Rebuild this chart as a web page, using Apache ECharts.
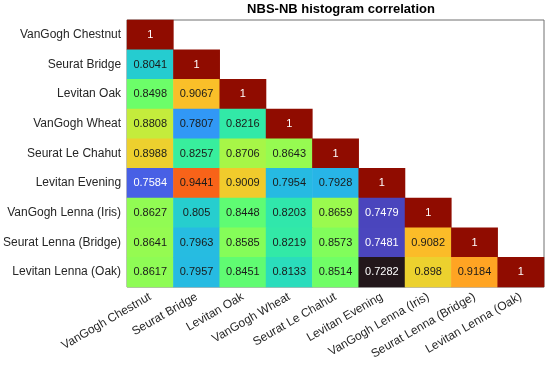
<!DOCTYPE html>
<html>
<head>
<meta charset="utf-8">
<script src="https://cdn.jsdelivr.net/npm/echarts@6/dist/echarts.min.js"></script>
<style>html,body{margin:0;padding:0;background:#fff}#c{width:550px;height:365px}</style>
</head>
<body>
<div id="c"></div>
<script>
var categories = ['VanGogh Chestnut','Seurat Bridge','Levitan Oak','VanGogh Wheat','Seurat Le Chahut','Levitan Evening','VanGogh Lenna (Iris)','Seurat Lenna (Bridge)','Levitan Lenna (Oak)'];
var row0 = [1];
var row1 = [0.8041, 1];
var row2 = [0.8498, 0.9067, 1];
var row3 = [0.8808, 0.7807, 0.8216, 1];
var row4 = [0.8988, 0.8257, 0.8706, 0.8643, 1];
var row5 = [0.7584, 0.9441, 0.9009, 0.7954, 0.7928, 1];
var row6 = [0.8627, 0.805, 0.8448, 0.8203, 0.8659, 0.7479, 1];
var row7 = [0.8641, 0.7963, 0.8585, 0.8219, 0.8573, 0.7481, 0.9082, 1];
var row8 = [0.8617, 0.7957, 0.8451, 0.8133, 0.8514, 0.7282, 0.898, 0.9184, 1];
var rows = [row0,row1,row2,row3,row4,row5,row6,row7,row8];
var vmin = 0.7282, vmax = 1;

function turbo(t){
  t = Math.max(0, Math.min(1, t));
  var r = 34.61 + t*(1172.33 - t*(10793.56 - t*(33300.12 - t*(38394.49 - t*14825.05))));
  var g = 23.31 + t*(557.33 + t*(1225.33 - t*(3574.96 - t*(1073.77 + t*707.56))));
  var b = 27.2 + t*(3211.1 - t*(15327.97 - t*(27814 - t*(22569.18 - t*6838.66))));
  function c(v){v=Math.max(0,Math.min(255,Math.round(v)));return (v<16?'0':'')+v.toString(16);}
  return '#'+c(r)+c(g)+c(b);
}
var stops = [];
for (var k=0;k<=40;k++) stops.push(turbo(k/40));

var data = [];
rows.forEach(function(r, i){
  r.forEach(function(v, j){
    var t = (v - vmin)/(vmax - vmin);
    var light = (t < 0.15 || t > 0.9);
    data.push({value:[j, i, v], label:{color: light ? '#ffffff' : '#1a1a1a'}});
  });
});

var FF = "'Liberation Sans', Arial, Helvetica, sans-serif";
var chart = echarts.init(document.getElementById('c'));
chart.setOption({
  animation: false,
  backgroundColor: '#ffffff',
  title: {
    text: 'NBS-NB histogram correlation',
    left: 336, top: -2, textAlign: 'center',
    textStyle: {fontFamily: FF, fontSize: 13, fontWeight: 'bold', color: '#000'}
  },
  grid: {left: 127, right: 6, top: 20, bottom: 78, show: true, borderColor: '#707070', borderWidth: 1, backgroundColor: 'transparent'},
  xAxis: {
    type: 'category', data: categories,
    axisLine: {show: false}, axisTick: {show: false}, splitLine: {show: false},
    axisLabel: {rotate: 30, margin: 9, fontFamily: FF, fontSize: 12, color: '#262626', interval: 0}
  },
  yAxis: {
    type: 'category', data: categories, inverse: true,
    axisLine: {show: false}, axisTick: {show: false}, splitLine: {show: false},
    axisLabel: {margin: 6, fontFamily: FF, fontSize: 12, color: '#262626', interval: 0}
  },
  visualMap: {
    show: false, type: 'continuous', min: vmin, max: vmax, dimension: 2,
    inRange: {color: stops}
  },
  series: [{
    type: 'heatmap',
    data: data,
    label: {show: true, fontFamily: FF, fontSize: 11, formatter: function(p){return String(p.value[2]);}},
    itemStyle: {borderWidth: 0},
    emphasis: {disabled: true}
  }]
});
</script>
</body>
</html>
